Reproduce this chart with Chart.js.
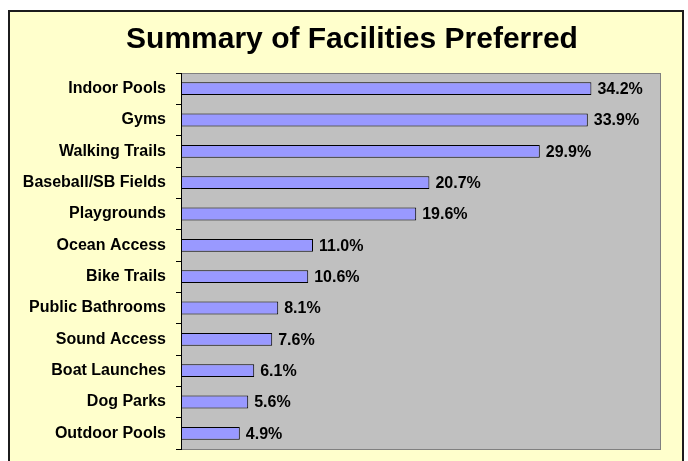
<!DOCTYPE html>
<html>
<head>
<meta charset="utf-8">
<script src="https://cdn.jsdelivr.net/npm/chart.js@4/dist/chart.umd.min.js"></script>
<style>
html,body{margin:0;padding:0;background:#fff;}
canvas{display:block;}
</style>
</head>
<body>
<canvas id="c" width="688" height="461"></canvas>
<script>
const titleText = 'Summary of Facilities Preferred';
const categories = ['Indoor Pools','Gyms','Walking Trails','Baseball/SB Fields','Playgrounds','Ocean Access','Bike Trails','Public Bathrooms','Sound Access','Boat Launches','Dog Parks','Outdoor Pools'];
const values = [34.2, 33.9, 29.9, 20.7, 19.6, 11.0, 10.6, 8.1, 7.6, 6.1, 5.6, 4.9];
const xMin = 0;
const xMax = 40;

const FONT = '"Liberation Sans", Arial, sans-serif';

const framePlugin = {
  id: 'frame',
  beforeDraw(chart) {
    const ctx = chart.ctx;
    const a = chart.chartArea;
    ctx.save();
    ctx.fillStyle = '#ffffff';
    ctx.fillRect(0, 0, chart.width, chart.height);
    ctx.fillStyle = '#FFFFCC';
    ctx.fillRect(9, 11, 674, chart.height);
    ctx.strokeStyle = '#1c1c1c';
    ctx.lineWidth = 2;
    ctx.beginPath();
    ctx.moveTo(9, chart.height + 2);
    ctx.lineTo(9, 11);
    ctx.lineTo(683, 11);
    ctx.lineTo(683, chart.height + 2);
    ctx.stroke();
    ctx.fillStyle = '#C0C0C0';
    ctx.fillRect(a.left, a.top, a.right - a.left, a.bottom - a.top);
    ctx.strokeStyle = '#808080';
    ctx.lineWidth = 1;
    ctx.strokeRect(a.left + 0.5, a.top + 0.5, a.right - a.left - 1, a.bottom - a.top);
    ctx.fillStyle = '#000';
    ctx.font = 'bold 30px ' + FONT;
    ctx.textAlign = 'center';
    ctx.textBaseline = 'alphabetic';
    ctx.fillText(titleText, 352, 48);
    ctx.restore();
  },
  afterDatasetsDraw(chart) {
    const ctx = chart.ctx;
    const meta = chart.getDatasetMeta(0);
    ctx.save();
    ctx.fillStyle = '#000';
    ctx.font = 'bold 16px ' + FONT;
    ctx.textAlign = 'left';
    ctx.textBaseline = 'middle';
    meta.data.forEach((bar, i) => {
      ctx.fillText(values[i].toFixed(1) + '%', bar.x + 6, bar.y + 1);
    });
    ctx.restore();
  }
};

new Chart(document.getElementById('c'), {
  type: 'bar',
  data: {
    labels: categories,
    datasets: [{
      data: values,
      backgroundColor: '#9999FF',
      borderColor: '#000000',
      borderWidth: 1,
      borderSkipped: false,
      categoryPercentage: 1,
      barPercentage: 0.41
    }]
  },
  options: {
    indexAxis: 'y',
    responsive: false,
    animation: false,
    devicePixelRatio: 1,
    layout: { padding: { left: 0, right: 27, top: 73, bottom: 12 } },
    plugins: { legend: { display: false }, tooltip: { enabled: false }, title: { display: false } },
    scales: {
      x: { min: xMin, max: xMax, display: false },
      y: {
        afterFit(s) { s.width = 181; s.paddingTop = 0; s.paddingBottom = 0; },
        border: { display: true, color: '#000', width: 1 },
        grid: { drawOnChartArea: false, drawTicks: true, tickLength: 5, color: '#000', offset: true },
        ticks: { color: '#000', padding: 10, font: { family: FONT, size: 16, weight: 'bold' } }
      }
    }
  },
  plugins: [framePlugin]
});
</script>
</body>
</html>
